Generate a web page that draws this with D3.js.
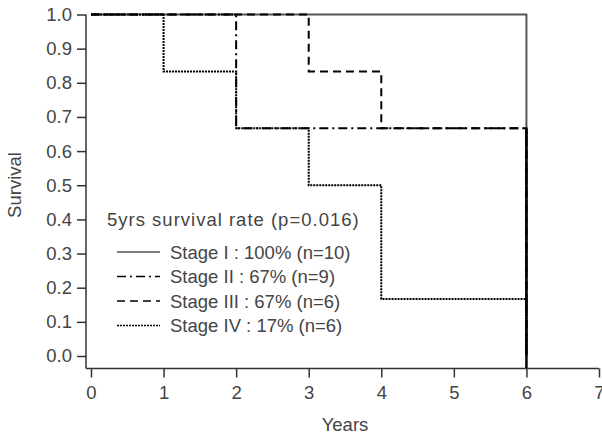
<!DOCTYPE html>
<html><head><meta charset="utf-8">
<script src="https://cdn.jsdelivr.net/npm/d3@7"></script>
<style>
body{margin:0;background:#fff}
svg{display:block}
text{font-family:"Liberation Sans",Arial,sans-serif}
</style></head><body>
<svg id="c" width="602" height="437"></svg>
<script>
const yTicks = [0,0.1,0.2,0.3,0.4,0.5,0.6,0.7,0.8,0.9,1.0];
const xTicks = [0,1,2,3,4,5,6,7];
const stageNames = ["Stage I : 100% (n=10)","Stage II : 67% (n=9)","Stage III : 67% (n=6)","Stage IV : 17% (n=6)"];
const stage1Times = [0,6,6];
const stage1Surv  = [1,1,0];
const stage2Times = [0,2,6,6];
const stage2Surv  = [1,0.667,0.667,0];
const stage3Times = [0,3,4,6,6];
const stage3Surv  = [1,0.833,0.667,0.667,0];
const stage4Times = [0,1,2,3,4,6,6];
const stage4Surv  = [1,0.833,0.667,0.5,0.167,0.167,0];
const legendTitle = "5yrs survival rate (p=0.016)";

const svg = d3.select("#c");
const x = d3.scaleLinear().domain([0,7]).range([91,599]);
const y = d3.scaleLinear().domain([0,1]).range([356,14.5]);
const axisColor = "#333";
const textColor = "#444";
const fs = 18.5;

// axes lines
svg.append("line").attr("x1",86).attr("x2",86).attr("y1",y(1)).attr("y2",368.5)
  .attr("stroke",axisColor).attr("stroke-width",1.5);
svg.append("line").attr("x1",86).attr("x2",x(7)).attr("y1",368.5).attr("y2",368.5)
  .attr("stroke",axisColor).attr("stroke-width",1.5);

const yAx = svg.append("g").attr("transform","translate(86,0)")
  .call(d3.axisLeft(y).tickValues(yTicks).tickFormat(d3.format(".1f")).tickSize(9).tickPadding(5));
yAx.select(".domain").remove();
yAx.selectAll("line").attr("stroke",axisColor).attr("stroke-width",1.5);
yAx.selectAll("text").attr("font-size",18.5).attr("fill",textColor).attr("font-family","Liberation Sans, Arial, sans-serif");

const xAx = svg.append("g").attr("transform","translate(0,368.5)")
  .call(d3.axisBottom(x).tickValues(xTicks).tickFormat(d3.format("d")).tickSize(9).tickPadding(8));
xAx.select(".domain").remove();
xAx.selectAll("line").attr("stroke",axisColor).attr("stroke-width",1.5);
xAx.selectAll("text").attr("font-size",18.5).attr("fill",textColor).attr("font-family","Liberation Sans, Arial, sans-serif");

svg.append("text").attr("x",x(3.5)).attr("y",431).attr("text-anchor","middle")
  .attr("font-size",18.5).attr("fill",textColor).text("Years");
svg.append("text").attr("transform","translate(21,185) rotate(-90)").attr("text-anchor","middle")
  .attr("font-size",18.5).attr("fill",textColor).text("Survival");

const series = [
  {t:stage1Times,s:stage1Surv,dash:null,color:"#555",w:2},
  {t:stage2Times,s:stage2Surv,dash:"9,4,2,4",color:"#000",w:2},
  {t:stage3Times,s:stage3Surv,dash:"8,5",color:"#000",w:2},
  {t:stage4Times,s:stage4Surv,dash:"2,1",color:"#000",w:2}
];
const line = d3.line().x(d=>x(d[0])).y(d=>y(d[1])).curve(d3.curveStepAfter);
series.forEach(sr=>{
  const pts = sr.t.map((t,i)=>[t,sr.s[i]]);
  const p = svg.append("path").attr("d",line(pts)).attr("fill","none")
    .attr("stroke",sr.color).attr("stroke-width",sr.w);
  if(sr.dash) p.attr("stroke-dasharray",sr.dash);
});
// final solid drop at year 6
svg.append("line").attr("x1",x(6)).attr("x2",x(6)).attr("y1",y(0.667)).attr("y2",368)
  .attr("stroke","#000").attr("stroke-width",2.5);

// legend
svg.append("text").attr("x",107).attr("y",226).attr("font-size",fs).attr("letter-spacing","1px")
  .attr("fill",textColor).text(legendTitle);
stageNames.forEach((nm,i)=>{
  const yy = 252 + i*24.5;
  const l = svg.append("line").attr("x1",117).attr("x2",160).attr("y1",yy).attr("y2",yy)
    .attr("stroke",series[i].color).attr("stroke-width",series[i].w-0.5);
  if(series[i].dash) l.attr("stroke-dasharray",series[i].dash);
  svg.append("text").attr("x",170).attr("y",yy+6.5).attr("font-size",fs).attr("fill",textColor).text(nm);
});
</script></body></html>
